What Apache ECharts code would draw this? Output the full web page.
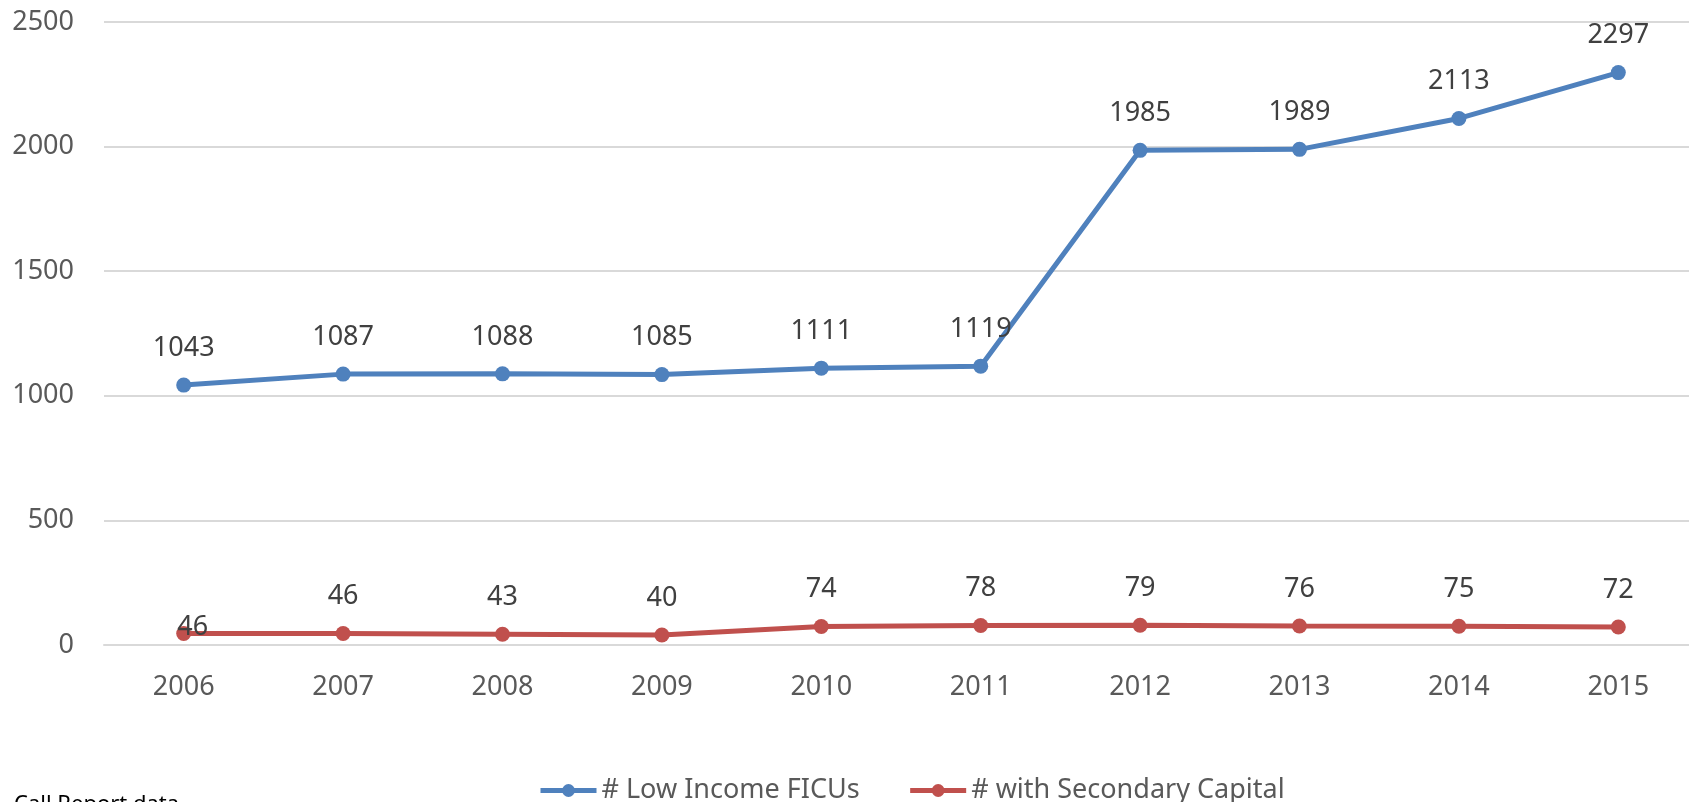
<!DOCTYPE html>
<html>
<head>
<meta charset="utf-8">
<script src="https://cdn.jsdelivr.net/npm/echarts@6/dist/echarts.min.js"></script>
<style>
  html, body { margin: 0; padding: 0; background: #fff; }
  #chart { width: 1689px; height: 802px; }
</style>
</head>
<body>
<div id="chart"></div>
<script>
// data
const years = ['2006', '2007', '2008', '2009', '2010', '2011', '2012', '2013', '2014', '2015']
const lowIncome = [1043, 1087, 1088, 1085, 1111, 1119, 1985, 1989, 2113, 2297]
const secondaryCapital = [46, 46, 43, 40, 74, 78, 79, 76, 75, 72]

const font = 'Noto Sans'
const chart = echarts.init(document.getElementById('chart'))

// first red label sits on the point in the original
const redData = secondaryCapital.map((v, i) =>
    i === 0 ? { value: v, label: { offset: [9, 31] } } : v
)

const option = {
    animation: false,
    // plot area runs past the right edge, as in the original
    grid: { left: 104, top: 22, width: 1594, height: 623, outerBoundsMode: 'none', containLabel: false },
    legend: {
        left: 533,
        top: 772,
        itemWidth: 56,
        itemHeight: 16,
        itemGap: 48,
        lineStyle: { width: 5 },
        textStyle: { fontFamily: font, fontSize: 27, color: '#595959' },
        data: ['# Low Income FICUs', '# with Secondary Capital']
    },
    xAxis: {
        type: 'category',
        data: years,
        boundaryGap: true,
        axisLine: { lineStyle: { color: '#D9D9D9', width: 2 } },
        axisTick: { show: false },
        axisLabel: { fontFamily: font, fontSize: 27, color: '#595959', margin: 29 }
    },
    yAxis: {
        type: 'value',
        min: 0,
        max: 2500,
        interval: 500,
        axisLine: { show: false },
        axisTick: { show: false },
        splitLine: { lineStyle: { color: '#D9D9D9', width: 2 } },
        axisLabel: { fontFamily: font, fontSize: 27, color: '#595959', margin: 30, formatter: v => String(v) }
    },
    series: [
        {
            name: '# Low Income FICUs',
            type: 'line',
            data: lowIncome,
            symbol: 'circle',
            symbolSize: 15,
            itemStyle: { color: '#4F81BD' },
            lineStyle: { color: '#4F81BD', width: 5 },
            label: {
                show: true,
                position: 'top',
                distance: 16,
                fontFamily: font,
                fontSize: 27,
                color: '#404040'
            }
        },
        {
            name: '# with Secondary Capital',
            type: 'line',
            data: redData,
            symbol: 'circle',
            symbolSize: 15,
            itemStyle: { color: '#C0504D' },
            lineStyle: { color: '#C0504D', width: 5 },
            label: {
                show: true,
                position: 'top',
                distance: 16,
                fontFamily: font,
                fontSize: 27,
                color: '#404040'
            }
        }
    ],
    graphic: [
        {
            type: 'text',
            left: 14,
            top: 794,
            style: { text: 'Call Report data', fontFamily: font, fontSize: 22, fill: '#000' }
        }
    ]
}
chart.setOption(option)
</script>
</body>
</html>
